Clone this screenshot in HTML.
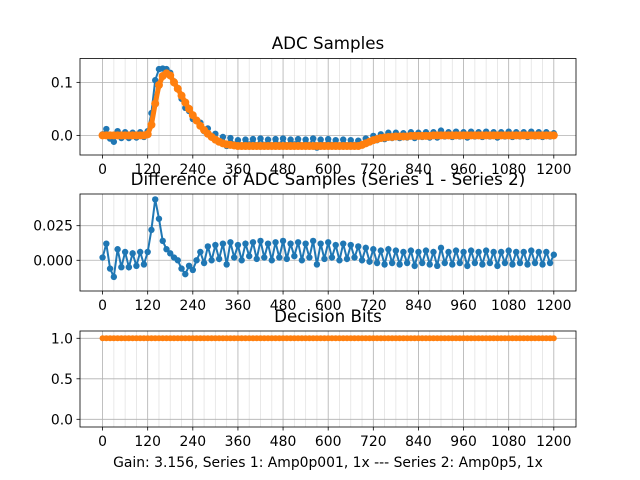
<!DOCTYPE html>
<html><head><meta charset="utf-8"><style>
body{margin:0;background:#fff}
svg{display:block;font-family:"DejaVu Sans","Liberation Sans",sans-serif}
</style></head><body>
<svg id="c" width="640" height="480"></svg>
<script>
const sampleIndex=[];for(let i=0;i<=1200;i+=10)sampleIndex.push(i);
const series2=[
0,0,0,0,0,0,0,0,0,0,0,0,
0.002,0.02,0.06,0.095,0.112,0.117,0.113,0.1,0.088,0.075,0.062,0.05,0.038,0.028,0.018,0.01,0.003,-0.003,-0.008,-0.012,-0.015,-0.017,-0.018,-0.019,
-0.02,-0.02,-0.02,-0.02,-0.02,-0.02,-0.02,-0.02,-0.02,-0.02,-0.02,
-0.02,-0.02,-0.02,-0.02,-0.02,-0.02,-0.02,-0.02,-0.02,-0.02,-0.02,
-0.02,-0.02,-0.02,-0.02,-0.02,-0.02,-0.02,-0.02,-0.02,-0.02,-0.02,
-0.018,-0.015,-0.012,-0.009,-0.007,-0.005,-0.004,-0.003,-0.003,-0.002,-0.002,-0.002,-0.002,-0.001,-0.001,-0.001,-0.001,-0.001,-0.001,
0,0,0,0,0,0,0,0,0,0,0,
0,0,0,0,0,0,0,0,0,0,0,
0,0,0,0,0,0,0,0,0,0,0];
const diff=[
0.002,0.012,-0.006,-0.012,0.008,-0.005,0.006,-0.005,0.005,-0.004,0.006,-0.003,
0.006,0.022,0.044,0.03,0.014,0.008,0.005,0.002,0.0,-0.006,-0.01,-0.004,-0.007,0.0,
0.006,-0.002,0.01,0.0,0.011,0.001,0.012,-0.003,0.013,0.002,
0.011,0.0,0.012,0.003,0.013,0.001,0.014,0.002,0.012,0.0,
0.013,0.002,0.014,0.001,0.012,0.003,0.013,0.0,0.012,0.002,
0.014,-0.003,0.012,0.001,0.013,0.002,0.011,0.0,0.012,0.001,
0.011,0.002,0.01,0.0,0.009,
-0.001,0.008,-0.002,0.007,-0.003,0.008,-0.002,0.007,-0.003,0.006,
-0.002,0.007,-0.004,0.006,-0.002,0.007,-0.003,0.006,-0.004,0.009,
-0.002,0.006,-0.003,0.007,-0.002,0.006,-0.004,0.007,-0.002,0.006,
-0.003,0.007,-0.002,0.006,-0.004,0.006,-0.002,0.007,-0.003,0.006,
-0.002,0.006,-0.003,0.007,-0.002,0.006,-0.003,0.006,-0.002,0.004];
const decisionBits=[1,1,1,1,1,1,1,1,1,1,1,1,1,1,1,1,1,1,1,1,1,1,1,1,1,1,1,1,1,1,1,1,1,1,1,1,1,1,1,1,1,1,1,1,1,1,1,1,1,1,1,1,1,1,1,1,1,1,1,1,1,1,1,1,1,1,1,1,1,1,1,1,1,1,1,1,1,1,1,1,1,1,1,1,1,1,1,1,1,1,1,1,1,1,1,1,1,1,1,1,1,1,1,1,1,1,1,1,1,1,1,1,1,1,1,1,1,1,1,1,1];
const xTicks=[0,120,240,360,480,600,720,840,960,1080,1200];
const y1Ticks=[0,0.1],y1Labels=["0.0","0.1"];
const y2Ticks=[0,0.025],y2Labels=["0.000","0.025"];
const y3Ticks=[0,0.5,1],y3Labels=["0.0","0.5","1.0"];
const series1=series2.map((v,i)=>v+(diff[i]||0));

const svg=document.getElementById('c');const NS='http://www.w3.org/2000/svg';
function mk(t,a,p){const e=document.createElementNS(NS,t);for(const k in a)e.setAttribute(k,a[k]);(p||svg).appendChild(e);return e;}
const L=80,R=576,XMIN=-60,XMAX=1259;
const sx=v=>L+(v-XMIN)/(XMAX-XMIN)*(R-L);
function axes(name,top,bot,ymin,ymax,yt,yl,title,titleY,series){
  const g=mk('g',{});
  
  
  const sy=v=>bot-(v-ymin)/(ymax-ymin)*(bot-top);
  for(let v=0;v<=1200;v+=30){if(v%120===0)continue;const l=mk('line',{x1:sx(v),x2:sx(v),y1:top,y2:bot,stroke:'#e3e3e3','stroke-width':0.8},g);}
  xTicks.forEach(v=>{const l=mk('line',{x1:sx(v),x2:sx(v),y1:top,y2:bot,stroke:'#b0b0b0','stroke-width':0.8},g);
    mk('line',{x1:sx(v),x2:sx(v),y1:bot,y2:bot+3.5,stroke:'#000','stroke-width':0.8},g);
    const t=mk('text',{x:sx(v),y:bot+19,'font-size':13.9,'text-anchor':'middle'},g);t.textContent=v;});
  yt.forEach((v,i)=>{mk('line',{x1:L,x2:R,y1:sy(v),y2:sy(v),stroke:'#b0b0b0','stroke-width':0.8},g);
    mk('line',{x1:L-3.5,x2:L,y1:sy(v),y2:sy(v),stroke:'#000','stroke-width':0.8},g);
    const t=mk('text',{x:L-7,y:sy(v)+5,'font-size':13.9,'text-anchor':'end'},g);t.textContent=yl[i];});
  series.forEach(s=>{
    const pts=s.d.map((v,i)=>sx(sampleIndex[i]).toFixed(1)+','+sy(v).toFixed(1)).join(' ');
    const pl=mk('polyline',{points:pts,fill:'none',stroke:s.c,'stroke-width':s.w},g);
    
    s.d.forEach((v,i)=>{const c=mk('circle',{cx:sx(sampleIndex[i]),cy:sy(v),r:s.r,fill:s.c},g);
      });
  });
  const f=mk('rect',{x:L,y:top,width:R-L,height:bot-top,fill:'none',stroke:'#000','stroke-width':0.8},g);
  
  const tt=mk('text',{x:(L+R)/2,y:titleY,'font-size':16.7,'text-anchor':'middle'},g);tt.textContent=title;
  
}
axes('adc-samples-axes',58.5,155,-0.037,0.145,y1Ticks,y1Labels,'ADC Samples',49,
  [{d:series1,c:'#1f77b4',w:2,r:3.2,n:'series1'},{d:series2,c:'#ff7f0e',w:5,r:4,n:'series2'}]);
axes('difference-axes',194,291,-0.0222,0.0479,y2Ticks,y2Labels,'Difference of ADC Samples (Series 1 - Series 2)',185,
  [{d:diff,c:'#1f77b4',w:2,r:3.2,n:'difference'}]);
axes('decision-bits-axes',331,427,-0.095,1.09,y3Ticks,y3Labels,'Decision Bits',322,
  [{d:decisionBits,c:'#1f77b4',w:1.5,r:2.5,n:'bits-series1'},{d:decisionBits,c:'#ff7f0e',w:5,r:3,n:'bits-series2'}]);
const xl=mk('text',{x:328,y:467,'font-size':13.9,'text-anchor':'middle'});
xl.textContent='Gain: 3.156, Series 1: Amp0p001, 1x --- Series 2: Amp0p5, 1x';


</script>
</body></html>
